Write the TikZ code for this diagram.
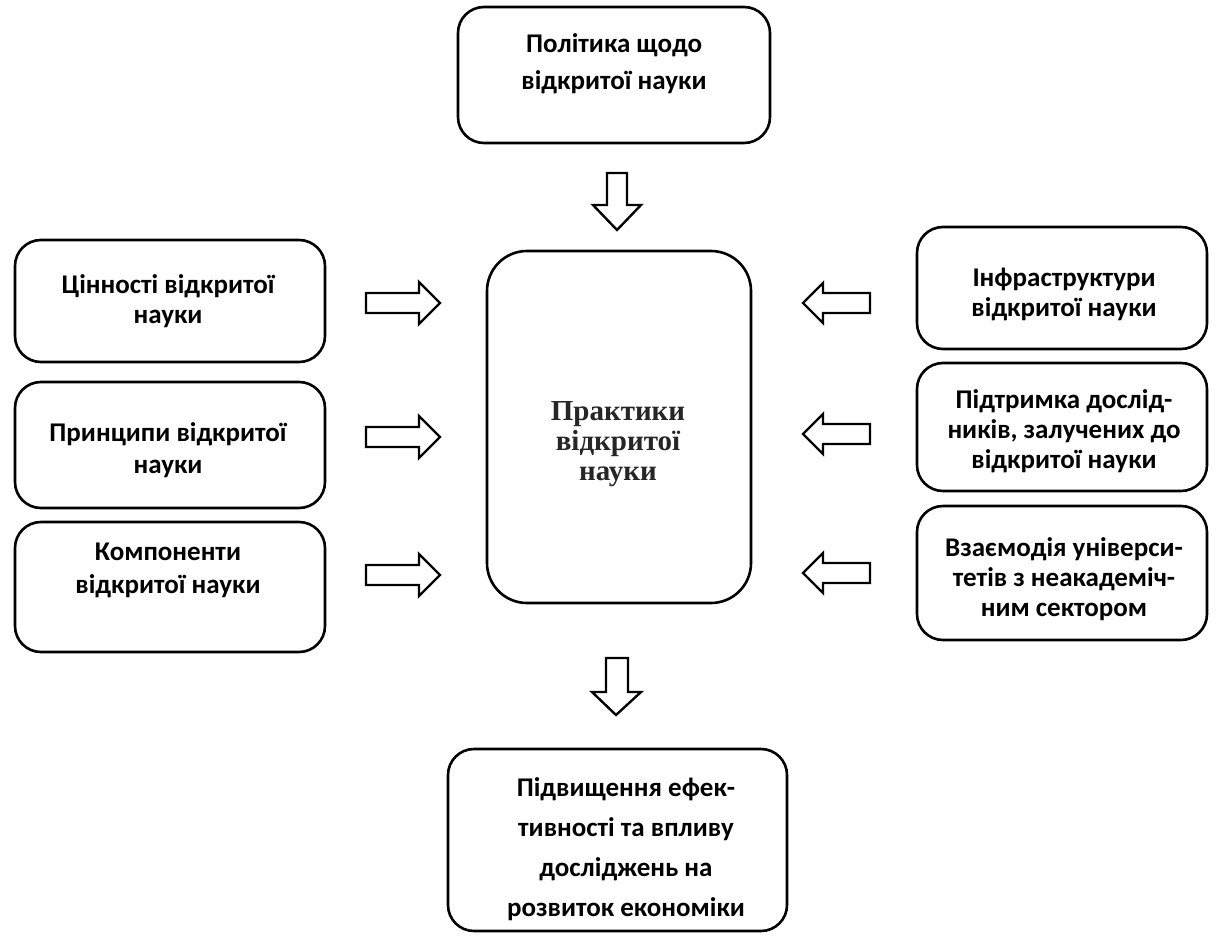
\documentclass[tikz,border=0pt]{standalone}
\usepackage{fontspec}
\setmainfont{Carlito}
\newfontfamily\serifcyr{Liberation Serif}
\begin{document}
\begin{tikzpicture}[x=1pt,y=-1pt,
  box/.style={draw=black, line width=2.6pt, rounded corners=26pt, fill=white},
  lbl/.style={font=\fontsize{27}{30}\selectfont\bfseries, align=center, inner sep=0pt},
  barrow/.style={draw=black, line width=2.4pt, fill=white, line join=miter}
]
\useasboundingbox (0,0) rectangle (1217,936);
% boxes
\draw[box] (458,7) rectangle (770,143);
\coordinate (topbox) at (614,75);
\draw[box, rounded corners=40pt] (487,251) rectangle (751,603);
\coordinate (center) at (619,427);
\draw[box] (15,240) rectangle (325,362);
\draw[box] (15,382) rectangle (325,508);
\draw[box] (15,522) rectangle (325,652);
\draw[box] (917,227) rectangle (1207,349);
\draw[box] (917,363) rectangle (1207,491);
\draw[box] (917,506) rectangle (1207,640);
\draw[box] (448,749) rectangle (787,931);
% texts
\node[lbl, font=\fontsize{27}{37}\selectfont\bfseries] (tpol) at (614,64) {Політика щодо\\відкритої науки};
\node[lbl, font=\fontsize{29}{30}\selectfont\bfseries\serifcyr, text=black!85] (tprac) at (618,444) {Практики\\відкритої\\науки};
\node[lbl] (tval) at (168,301) {Цінності відкритої\\науки};
\node[lbl, font=\fontsize{27}{32}\selectfont\bfseries] (tpri) at (168,450) {Принципи відкритої\\науки};
\node[lbl, font=\fontsize{27}{33}\selectfont\bfseries] (tcom) at (168,570) {Компоненти\\відкритої науки};
\node[lbl] (tinf) at (1064,294) {Інфраструктури\\відкритої науки};
\node[lbl] (tsup) at (1064,431) {Підтримка дослід-\\ників, залучених до\\відкритої науки};
\node[lbl] (tint) at (1064,579) {Взаємодія універси-\\тетів з неакадеміч-\\ним сектором};
\node[lbl, font=\fontsize{27}{40}\selectfont\bfseries] (tres) at (626,849) {Підвищення ефек-\\тивності та впливу\\досліджень на\\розвиток економіки};
% block arrows
% down arrow top
\draw[barrow] (607,173) -- (627,173) -- (627,205) -- (641,205) -- (617,230) -- (593,205) -- (607,205) -- cycle;
% down arrow bottom
\draw[barrow] (606,658) -- (628,658) -- (628,692) -- (641,692) -- (616,715) -- (592,692) -- (606,692) -- cycle;
% right-pointing arrows (left side)
\foreach \yy in {303,437,575}{
  \draw[barrow] (366,\yy-10) -- (419,\yy-10) -- (419,\yy-21) -- (440,\yy) -- (419,\yy+21) -- (419,\yy+10) -- (366,\yy+10) -- cycle;
}
% left-pointing arrows (right side)
\foreach \yy in {303,434,573}{
  \draw[barrow] (870,\yy-10) -- (823,\yy-10) -- (823,\yy-20) -- (803,\yy) -- (823,\yy+20) -- (823,\yy+10) -- (870,\yy+10) -- cycle;
}
\end{tikzpicture}
\end{document}
